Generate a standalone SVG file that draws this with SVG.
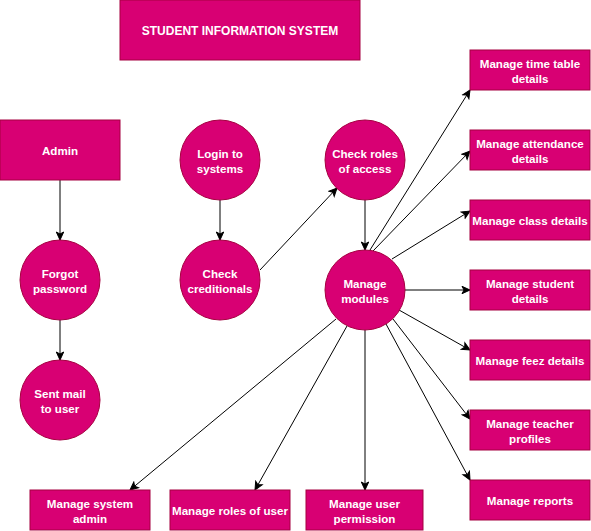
<svg xmlns="http://www.w3.org/2000/svg" width="591" height="531" viewBox="0 0 591 531">
  <style>
    .shape { fill: #d80073; stroke: #a50040; stroke-width: 1; }
    .label { font-family: "Liberation Sans", Arial, Helvetica, sans-serif; font-size: 11.6px; font-weight: bold; fill: #ffffff; text-anchor: middle; dominant-baseline: central; }
    .title { font-size: 12px; }
    .edge { fill: none; stroke: #000000; stroke-width: 1; marker-end: url(#arrow); }
  </style>
  <defs>
    <marker id="arrow" markerUnits="userSpaceOnUse" markerWidth="10" markerHeight="10" viewBox="0 0 10 10" refX="9" refY="5" orient="auto">
      <path d="M1,1.3 L9,5 L1,8.7 L3,5 Z" fill="#000000" stroke="#000000" stroke-width="1"/>
    </marker>
  </defs>
  <rect width="591" height="531" fill="#ffffff"/>

  <!-- connectors -->
  <g id="connectors">
    <line class="edge" x1="60" y1="180" x2="60" y2="240"/>
    <line class="edge" x1="60" y1="320" x2="60" y2="360"/>
    <line class="edge" x1="220" y1="200" x2="220" y2="240"/>
    <line class="edge" x1="260" y1="270" x2="337" y2="188"/>
    <line class="edge" x1="365" y1="200" x2="365" y2="250"/>
    <line class="edge" x1="370" y1="250" x2="470" y2="90"/>
    <line class="edge" x1="373" y1="251" x2="470" y2="151"/>
    <line class="edge" x1="392" y1="259" x2="470" y2="211"/>
    <line class="edge" x1="405" y1="290" x2="470" y2="290"/>
    <line class="edge" x1="399" y1="310" x2="470" y2="350"/>
    <line class="edge" x1="393" y1="319" x2="470" y2="419"/>
    <line class="edge" x1="386" y1="324" x2="470" y2="480"/>
    <line class="edge" x1="336" y1="319" x2="130" y2="490"/>
    <line class="edge" x1="347" y1="326" x2="255" y2="490"/>
    <line class="edge" x1="365" y1="330" x2="365" y2="490"/>
  </g>

  <g id="title">
    <rect class="shape" x="120" y="0" width="240" height="60"/>
    <text class="label title" x="240" y="30.5">STUDENT INFORMATION SYSTEM</text>
  </g>

  <g id="admin">
    <rect class="shape" x="0" y="120" width="120" height="60"/>
    <text class="label" x="60" y="150.5">Admin</text>
  </g>
  <g id="forgot-password">
    <circle class="shape" cx="60" cy="280" r="40"/>
    <text class="label" x="60" y="273.5">Forgot</text>
    <text class="label" x="60" y="288.5">password</text>
  </g>
  <g id="sent-mail">
    <circle class="shape" cx="60" cy="400" r="40"/>
    <text class="label" x="60" y="393.5">Sent mail</text>
    <text class="label" x="60" y="408.5">to user</text>
  </g>

  <g id="login">
    <circle class="shape" cx="220" cy="160" r="40"/>
    <text class="label" x="220" y="153.5">Login to</text>
    <text class="label" x="220" y="168.5">systems</text>
  </g>
  <g id="check-creditionals">
    <circle class="shape" cx="220" cy="280" r="40"/>
    <text class="label" x="220" y="273.5">Check</text>
    <text class="label" x="220" y="288.5">creditionals</text>
  </g>
  <g id="check-roles">
    <circle class="shape" cx="365" cy="160" r="40"/>
    <text class="label" x="365" y="153.5">Check roles</text>
    <text class="label" x="365" y="168.5">of access</text>
  </g>
  <g id="manage-modules">
    <circle class="shape" cx="365" cy="290" r="40"/>
    <text class="label" x="365" y="283.5">Manage</text>
    <text class="label" x="365" y="298.5">modules</text>
  </g>

  <g id="time-table">
    <rect class="shape" x="470" y="50" width="120" height="40"/>
    <text class="label" x="530" y="63.5">Manage time table</text>
    <text class="label" x="530" y="78.5">details</text>
  </g>
  <g id="attendance">
    <rect class="shape" x="470" y="130" width="120" height="40"/>
    <text class="label" x="530" y="143.5">Manage attendance</text>
    <text class="label" x="530" y="158.5">details</text>
  </g>
  <g id="class-details">
    <rect class="shape" x="470" y="200" width="120" height="40"/>
    <text class="label" x="530" y="220.5">Manage class details</text>
  </g>
  <g id="student-details">
    <rect class="shape" x="470" y="270" width="120" height="40"/>
    <text class="label" x="530" y="283.5">Manage student</text>
    <text class="label" x="530" y="298.5">details</text>
  </g>
  <g id="feez-details">
    <rect class="shape" x="470" y="340" width="120" height="40"/>
    <text class="label" x="530" y="360.5">Manage feez details</text>
  </g>
  <g id="teacher-profiles">
    <rect class="shape" x="470" y="410" width="120" height="40"/>
    <text class="label" x="530" y="423.5">Manage teacher</text>
    <text class="label" x="530" y="438.5">profiles</text>
  </g>
  <g id="reports">
    <rect class="shape" x="470" y="480" width="120" height="40"/>
    <text class="label" x="530" y="500.5">Manage reports</text>
  </g>

  <g id="system-admin">
    <rect class="shape" x="30" y="490" width="120" height="40"/>
    <text class="label" x="90" y="503.5">Manage system</text>
    <text class="label" x="90" y="518.5">admin</text>
  </g>
  <g id="roles-of-user">
    <rect class="shape" x="170" y="490" width="120" height="40"/>
    <text class="label" x="230" y="510.5">Manage roles of user</text>
  </g>
  <g id="user-permission">
    <rect class="shape" x="306" y="490" width="117" height="40"/>
    <text class="label" x="364.5" y="503.5">Manage user</text>
    <text class="label" x="364.5" y="518.5">permission</text>
  </g>
</svg>
